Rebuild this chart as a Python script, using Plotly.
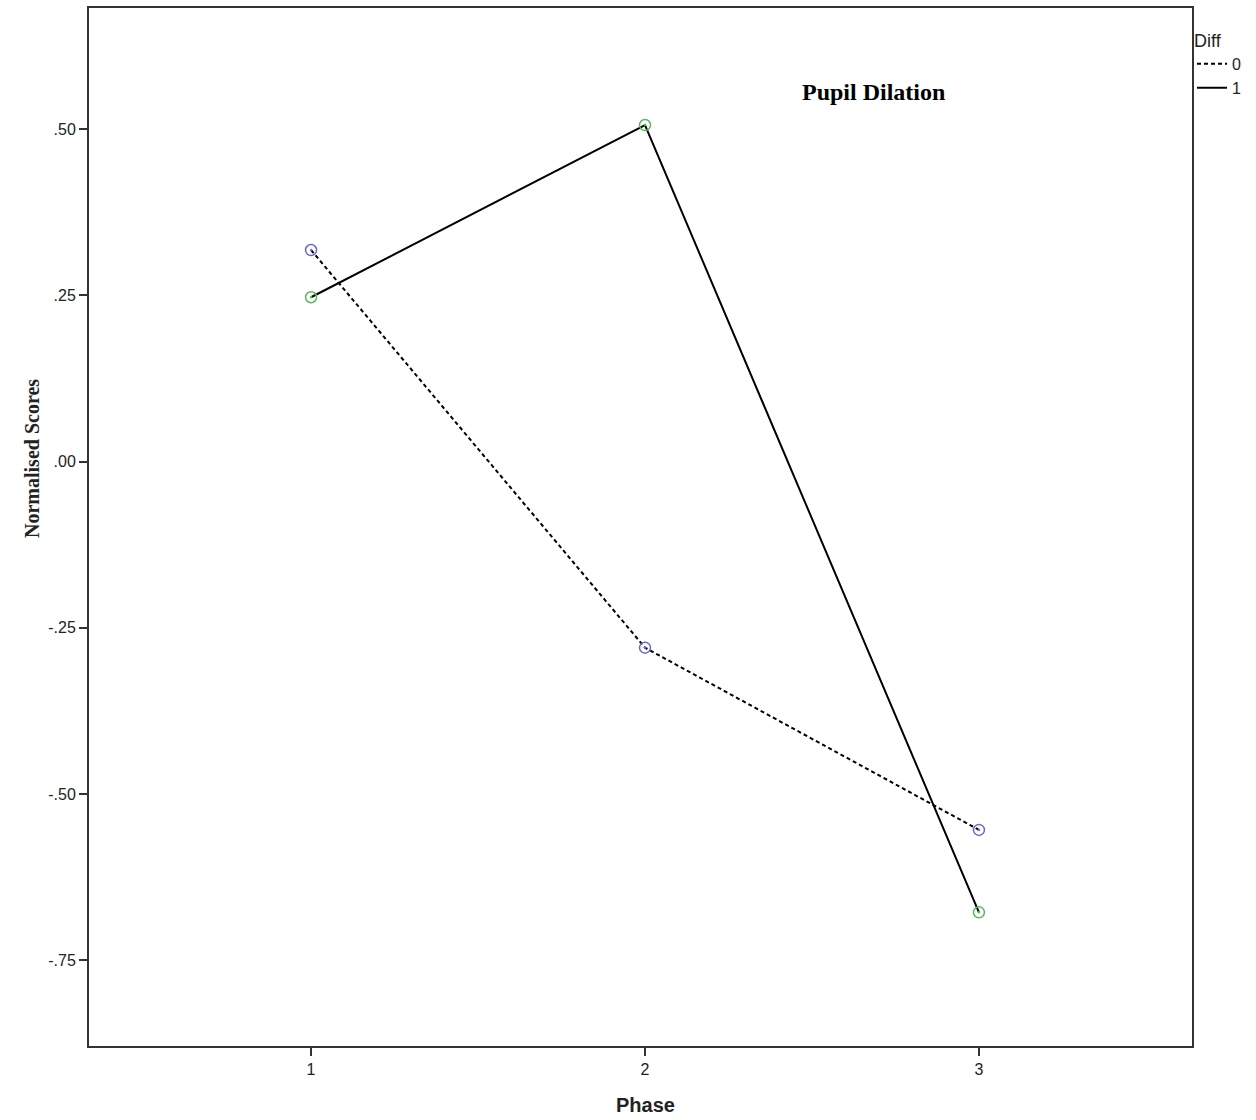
import plotly.graph_objects as go

phase = [1, 2, 3]
diff0_scores = [0.318, -0.280, -0.554]
diff1_scores = [0.247, 0.506, -0.678]
y_tickvals = [0.50, 0.25, 0.00, -0.25, -0.50, -0.75]
y_ticktext = [".50", ".25", ".00", "-.25", "-.50", "-.75"]

fig = go.Figure()
fig.add_trace(go.Scatter(x=phase, y=diff0_scores, mode="lines", name="0",
                         line=dict(color="black", width=2, dash="4px,3px")))
fig.add_trace(go.Scatter(x=phase, y=diff1_scores, mode="lines", name="1",
                         line=dict(color="black", width=2)))
fig.add_trace(go.Scatter(x=phase, y=diff0_scores, mode="markers", showlegend=False,
                         marker=dict(symbol="circle-open-dot", size=11, color="#6a6acc",
                                     line=dict(width=1.5))))
fig.add_trace(go.Scatter(x=phase, y=diff1_scores, mode="markers", showlegend=False,
                         marker=dict(symbol="circle-open-dot", size=11, color="#5cb85c",
                                     line=dict(width=1.5))))

axis_common = dict(showline=True, linecolor="#333", linewidth=2, mirror=True,
                   ticks="outside", ticklen=8, tickcolor="#333", tickwidth=2,
                   showgrid=False, zeroline=False, automargin=False,
                   tickfont=dict(family="Liberation Sans, Arial", size=16, color="#222"))

fig.update_layout(
    width=1256, height=1120,
    margin=dict(l=89, r=64, t=8, b=74),
    plot_bgcolor="white", paper_bgcolor="white",
    xaxis=dict(range=[0.335, 3.638], tickvals=phase, ticktext=["1", "2", "3"], **axis_common),
    yaxis=dict(range=[-0.879, 0.682], tickvals=y_tickvals, ticktext=y_ticktext, **axis_common),
    legend=dict(x=1.0, y=0.985, xanchor="left", yanchor="top",
                title=dict(text="Diff", font=dict(family="Liberation Sans, Arial", size=18, color="#222")),
                font=dict(family="Liberation Sans, Arial", size=16, color="#222"),
                itemwidth=30, tracegroupgap=0, bgcolor="rgba(0,0,0,0)"),
    showlegend=True,
)
fig.add_annotation(x=(873 - 89) / 1103, y=1 - (92 - 8) / 1038, xref="paper", yref="paper",
                   xanchor="center", yanchor="middle", showarrow=False,
                   text="<b>Pupil Dilation</b>",
                   font=dict(family="Liberation Serif, Times New Roman", size=24, color="black"))
fig.add_annotation(x=(645 - 89) / 1103, y=1 - (1105 - 8) / 1038, xref="paper", yref="paper",
                   xanchor="center", yanchor="middle", showarrow=False,
                   text="<b>Phase</b>",
                   font=dict(family="Liberation Sans, Arial", size=20, color="#222"))
fig.add_annotation(x=(32 - 89) / 1103, y=1 - (458 - 8) / 1038, xref="paper", yref="paper",
                   xanchor="center", yanchor="middle", showarrow=False, textangle=-90,
                   text="<b>Normalised Scores</b>",
                   font=dict(family="Liberation Serif, Times New Roman", size=20, color="#222"))

fig.write_html("out.html")
